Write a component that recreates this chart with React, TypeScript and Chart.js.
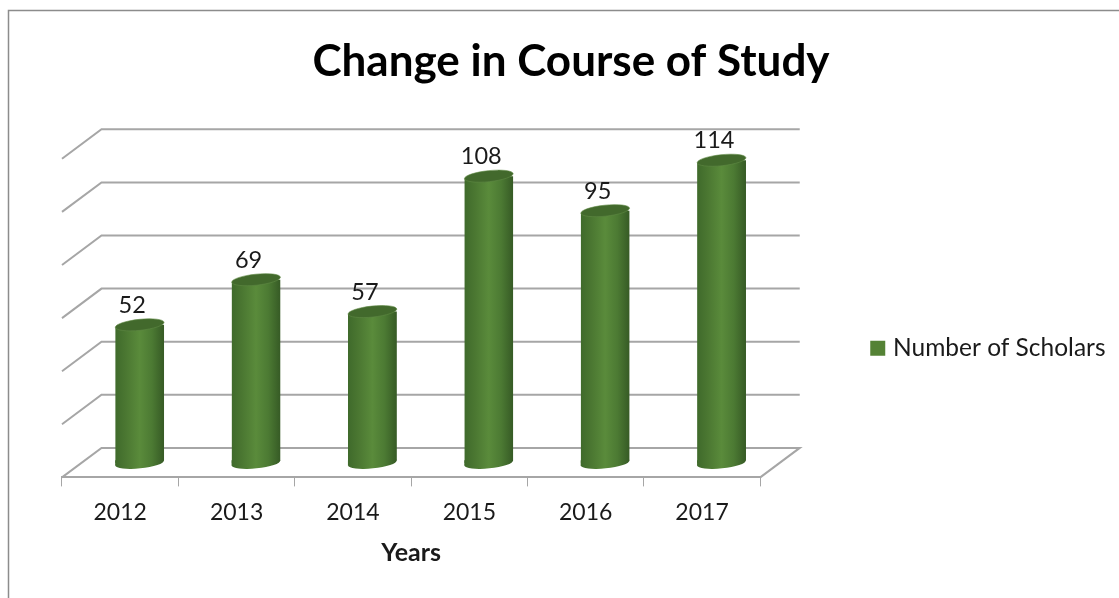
import React, { useEffect, useRef } from "react";
import { Chart, registerables } from "chart.js";

Chart.register(...registerables);

const categories = ["2012", "2013", "2014", "2015", "2016", "2017"];
const scholars = [52, 69, 57, 108, 95, 114];
const seriesName = "Number of Scholars";
const chartTitle = "Change in Course of Study";
const xTitle = "Years";

const FONT = "Lato, 'Open Sans', sans-serif";
const TEXT = "#1a1a1a";
const GRID = "#a6a6a6";
const LEGEND_GREEN = "#548235";
const DEPTH_X = 39.5;
const DEPTH_Y = 29.5;
const BAR_DX = 19.5;
const BAR_DY = -14.5;
const RX = 24.5;
const RY = 5.5;
const TILT = (-6 * Math.PI) / 180;
const TILT_RISE = RX * Math.sin(-TILT);

function body(c: any, b: any) {
  c.moveTo(b.x - RX, b.y + TILT_RISE);
  c.lineTo(b.x + RX, b.y - TILT_RISE);
  c.lineTo(b.x + RX, b.base - TILT_RISE);
  c.lineTo(b.x - RX, b.base + TILT_RISE);
  c.closePath();
}

const decor = {
  id: "decor",
  afterLayout(chart: any) {
    const l = chart.legend;
    if (l) {
      const w = l.right - l.left;
      const h = l.bottom - l.top;
      l.left = 869.75;
      l.right = l.left + w;
      l.top = 331;
      l.bottom = l.top + h;
    }
    const t = chart.titleBlock;
    if (t) {
      t.left = 23;
      t.right = chart.width;
    }
  },
  beforeDraw(chart: any) {
    const c = chart.ctx;
    c.save();
    c.fillStyle = "#fff";
    c.fillRect(0, 0, chart.width, chart.height);
    c.strokeStyle = "#8c8c8c";
    c.lineWidth = 1.5;
    c.beginPath();
    c.moveTo(8.5, chart.height);
    c.lineTo(8.5, 10.5);
    c.lineTo(chart.width, 10.5);
    c.stroke();
    c.restore();
  },
  beforeDatasetsDraw(chart: any) {
    const c = chart.ctx;
    const { left, right } = chart.chartArea;
    const y = chart.scales.y;
    c.save();
    c.strokeStyle = GRID;
    c.lineWidth = 2;
    y.ticks.forEach((t: any) => {
      const py = y.getPixelForValue(t.value);
      c.beginPath();
      c.moveTo(left, py);
      c.lineTo(left + DEPTH_X, py - DEPTH_Y);
      c.lineTo(right + DEPTH_X, py - DEPTH_Y);
      if (t.value === 0) c.lineTo(right, py);
      c.stroke();
    });
    c.restore();
  },
  beforeDatasetDraw(chart: any) {
    const c = chart.ctx;
    const meta = chart.getDatasetMeta(0);
    c.save();
    c.translate(BAR_DX, BAR_DY);
    meta.data.forEach((b: any) => {
      c.fillStyle = b.options.backgroundColor;
      c.beginPath();
      c.ellipse(b.x, b.base, RX, RY, TILT, 0, Math.PI * 2);
      c.fill();
      c.beginPath();
      c.moveTo(b.x - RX, b.base - TILT_RISE);
      c.lineTo(b.x + RX, b.base - TILT_RISE);
      c.lineTo(b.x - RX, b.base + TILT_RISE);
      c.closePath();
      c.fill();
    });
    c.save();
    c.beginPath();
    meta.data.forEach((b: any) => body(c, b));
    c.clip();
  },
  afterDatasetDraw(chart: any) {
    const c = chart.ctx;
    const meta = chart.getDatasetMeta(0);
    c.restore();
    meta.data.forEach((b: any) => {
      c.fillStyle = "#42692c";
      c.strokeStyle = "#5f8a45";
      c.lineWidth = 0.6;
      c.beginPath();
      c.ellipse(b.x, b.y, RX, RY, TILT, 0, Math.PI * 2);
      c.fill();
      c.stroke();
    });
    c.restore();
    c.save();
    c.fillStyle = TEXT;
    c.font = `23.5px ${FONT}`;
    c.textAlign = "center";
    c.textBaseline = "middle";
    meta.data.forEach((b: any, i: number) => {
      c.fillText(String(scholars[i]), b.x + BAR_DX - 7.5, b.y + BAR_DY - 19.5);
    });
    c.restore();
  },
};

export default function App() {
  const ref = useRef<HTMLCanvasElement>(null);
  useEffect(() => {
    const chart = new Chart(ref.current as HTMLCanvasElement, {
      type: "bar",
      plugins: [decor],
      data: {
        labels: categories,
        datasets: [
          {
            label: seriesName,
            data: scholars,
            clip: false,
            barPercentage: 0.42,
            categoryPercentage: 1,
            backgroundColor: (ctx: any) => {
              const x = ctx.chart.scales?.x;
              if (!x || ctx.dataIndex === undefined) return LEGEND_GREEN;
              const cx = x.getPixelForValue(ctx.dataIndex);
              if (!Number.isFinite(cx)) return LEGEND_GREEN;
              const g = ctx.chart.ctx.createLinearGradient(cx - RX, 0, cx + RX, 0);
              g.addColorStop(0, "#3f6a2b");
              g.addColorStop(0.2, "#4a7631");
              g.addColorStop(0.5, "#5a8b3b");
              g.addColorStop(0.75, "#4c7a33");
              g.addColorStop(1, "#365a25");
              return g;
            },
          },
        ],
      } as any,
      options: {
        animation: false,
        responsive: false,
        layout: { padding: { left: 62, right: 113, top: 0, bottom: 30 } },
        events: [],
        scales: {
          x: {
            offset: true,
            border: { display: true, color: GRID, width: 2 },
            grid: {
              offset: true,
              drawOnChartArea: false,
              drawTicks: true,
              tickLength: 9,
              color: GRID,
              lineWidth: 1,
            },
            ticks: {
              color: TEXT,
              font: { family: FONT, size: 23 },
              padding: 12,
              maxRotation: 0,
            },
            title: {
              display: true,
              text: xTitle,
              color: TEXT,
              font: { family: FONT, size: 25, weight: "bold" },
              padding: { top: 0, bottom: 0 },
            },
          },
          y: {
            display: false,
            min: 0,
            max: 120,
            ticks: { stepSize: 20 },
          },
        },
        plugins: {
          tooltip: { enabled: false },
          title: {
            display: true,
            text: chartTitle,
            color: "#000",
            font: { family: FONT, size: 44, weight: "bold" },
            padding: { top: 35, bottom: 71 },
          },
          legend: {
            display: true,
            position: "right",
            align: "start",
            labels: {
              color: TEXT,
              font: { family: FONT, size: 24.5 },
              boxWidth: 6,
              boxHeight: 6,
              padding: 5,
              generateLabels: (chart: any) =>
                Chart.defaults.plugins.legend.labels.generateLabels(chart).map((l: any) => ({
                  ...l,
                  fillStyle: LEGEND_GREEN,
                  strokeStyle: LEGEND_GREEN,
                  lineWidth: 9,
                })),
            },
          },
        },
      } as any,
    });
    return () => chart.destroy();
  }, []);
  return (
    <div style={{ position: "fixed", left: 0, top: 0, width: 1119, height: 598 }}>
      <canvas ref={ref} width={1119} height={598} style={{ display: "block" }} />
    </div>
  );
}
